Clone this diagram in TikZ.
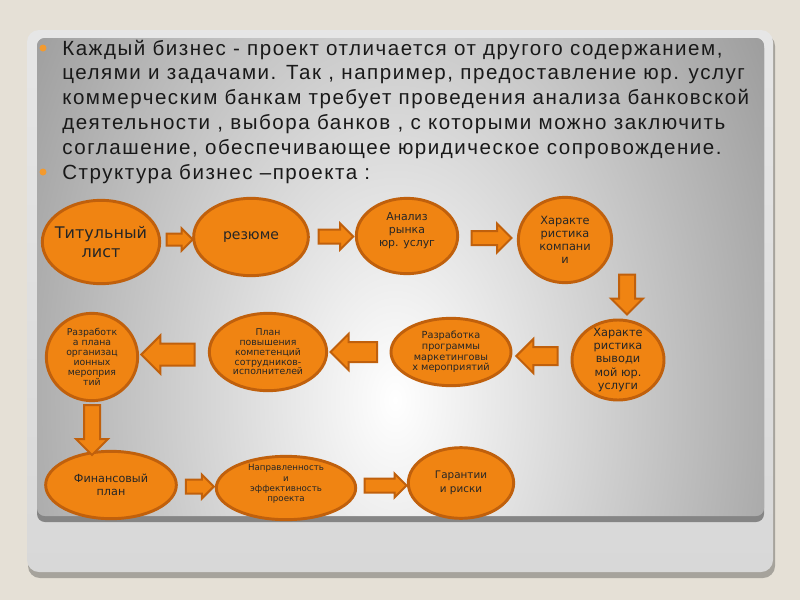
\documentclass[tikz,border=0pt]{standalone}
\usepackage{fontspec}
\setmainfont{Liberation Sans}
\newfontfamily\slidefont[LetterSpace=7.5]{Liberation Sans}
\newfontfamily\bubblefont{DejaVu Sans}
\usetikzlibrary{positioning}
\usetikzlibrary{calc}
\usetikzlibrary{shapes.geometric,shapes.arrows}

\definecolor{slidebg}{HTML}{E5E0D6}
\definecolor{paneltop}{HTML}{E6E6E6}
\definecolor{panelbottom}{HTML}{D8D8D8}
\definecolor{panelshadow}{HTML}{A6A39C}
\definecolor{innergray}{HTML}{9C9C9C}
\definecolor{innerdark}{HTML}{858585}
\definecolor{bubblefill}{HTML}{F08412}
\definecolor{bubbleline}{HTML}{C0600C}
\definecolor{bulletorange}{HTML}{F39A2E}

\tikzset{
  bubble/.style={ellipse, draw=bubbleline, fill=bubblefill, line width=2.2pt, inner sep=0pt},
  bubbletext/.style={align=center, text=black!85, inner sep=0pt},
  fatarrow/.style={single arrow, draw=bubbleline, fill=bubblefill, line width=1.5pt, inner xsep=0pt, single arrow head indent=0pt},
  slidetext/.style={anchor=base west, inner sep=0pt, text=black!90, font=\slidefont\fontsize{15.4}{18.6}\selectfont},
}

\begin{document}
\begin{tikzpicture}[x=0.75pt, y=-0.75pt]
    % slide background and panels
    \useasboundingbox (0,0) rectangle (800,600);
    \fill[slidebg] (0,0) rectangle (800,600);
    \fill[panelshadow, rounded corners=9pt] (28,34) rectangle (775,578);
    \shade[top color=paneltop, bottom color=panelbottom, rounded corners=9pt] (27,30) rectangle (773,572);
    \fill[innerdark, rounded corners=6pt] (37,40) rectangle (764,522);
    \begin{scope}
        \clip[rounded corners=6pt] (37,38) rectangle (764,516);
        \fill[innergray] (37,38) rectangle (764,516);
        \shade[inner color=white, outer color=innergray] (395,400) ellipse (440 and 700);
    \end{scope}

    % the bullet text (base of a multi-line node is its last line)
    \fill[bulletorange] (43,48) circle (3.5);
    \fill[bulletorange] (43,172) circle (3.5);
    \node[slidetext, align=left] (intro) at (62,154.2)
        {Каждый бизнес - проект отличается от другого содержанием,\\
         целями и задачами. Так , например, предоставление юр. услуг\\
         коммерческим банкам требует проведения анализа банковской\\
         деятельности , выбора банков , с которыми можно заключить\\
         соглашение, обеспечивающее юридическое сопровождение.};
    \node[slidetext] (structure) at (62,179) {Структура бизнес –проекта :};

    % the stages, row by row
    \node[bubble, minimum width=88pt, minimum height=62.5pt,
        label={[bubbletext, font=\bubblefont\fontsize{12}{14}\selectfont]center:{Титульный\\лист}}] (title) at (101,242) {};
    \node[bubble, minimum width=86pt, minimum height=58pt,
        label={[bubbletext, font=\bubblefont\fontsize{10.5}{12}\selectfont]center:{резюме}}] (summary) at (251,237) {};
    \node[bubble, minimum width=76pt, minimum height=56.5pt,
        label={[bubbletext, yshift=4pt, font=\bubblefont\fontsize{8.2}{9.4}\selectfont]center:{Анализ\\рынка\\юр. услуг}}] (analysis) at (407,236) {};
    \node[bubble, minimum width=70pt, minimum height=64pt,
        label={[bubbletext, font=\bubblefont\fontsize{8.5}{9.8}\selectfont]center:{Характе\\ристика\\компани\\и}}] (company) at (565,240) {};

    \node[bubble, minimum width=69pt, minimum height=60pt,
        label={[bubbletext, font=\bubblefont\fontsize{8.5}{10}\selectfont]center:{Характе\\ристика\\выводи\\мой юр.\\услуги}}] (service) at (618,360) {};
    \node[bubble, minimum width=90pt, minimum height=50.5pt,
        label={[bubbletext, font=\bubblefont\fontsize{7.3}{7.9}\selectfont]center:{Разработка\\программы\\маркетинговы\\х мероприятий}}] (marketing) at (451,352) {};
    \node[bubble, minimum width=88pt, minimum height=58pt,
        label={[bubbletext, font=\bubblefont\fontsize{7}{7.3}\selectfont]center:{План\\повышения\\компетенций\\сотрудников-\\исполнителей}}] (staff) at (268,352) {};
    \node[bubble, minimum width=68.5pt, minimum height=65.5pt,
        label={[bubbletext, font=\bubblefont\fontsize{7}{7.5}\selectfont]center:{Разработк\\а плана\\организац\\ионных\\мероприя\\тий}}] (events) at (92,357) {};

    \node[bubble, minimum width=98pt, minimum height=50.5pt,
        label={[bubbletext, font=\bubblefont\fontsize{8.4}{9.8}\selectfont]center:{Финансовый\\план}}] (finance) at (111,485) {};
    \node[bubble, minimum width=104.5pt, minimum height=47.5pt,
        label={[bubbletext, yshift=3pt, font=\bubblefont\fontsize{6.5}{7.8}\selectfont]center:{Направленность\\и\\эффективность\\проекта}}] (efficiency) at (286,488) {};
    \node[bubble, minimum width=79pt, minimum height=53pt,
        label={[bubbletext, font=\bubblefont\fontsize{7.8}{10.5}\selectfont]center:{Гарантии\\и риски}}] (risks) at (461,483) {};

    % the block arrows between the stages
    \node[fatarrow, minimum height=19.5pt, inner ysep=3.75pt, single arrow head extend=3.75pt] (a12) at ($(title.east)!0.5!(summary.west)$) {};
    \node[fatarrow, minimum height=26pt, inner ysep=4.5pt, single arrow head extend=4.5pt] (a23) at ($(summary.east)!0.5!(analysis.west)$) {};
    \node[fatarrow, minimum height=30pt, inner ysep=4.5pt, single arrow head extend=5.6pt] (a34) at ($(analysis.east)!0.5!(company.west)$) {};
    \node[fatarrow, rotate=-90, minimum height=30pt, inner ysep=5.25pt, single arrow head extend=6pt] (a45) at ($(service.north)+(9,-28)$) {};
    \node[fatarrow, rotate=180, minimum height=31pt, inner ysep=6pt, single arrow head extend=6pt] (a56) at ($(service.west)!0.5!(marketing.east)$) {};
    \node[fatarrow, rotate=180, minimum height=35pt, inner ysep=6.75pt, single arrow head extend=6pt] (a67) at ($(marketing.west)!0.5!(staff.east)$) {};
    \node[fatarrow, rotate=180, minimum height=40pt, inner ysep=7.5pt, single arrow head extend=6pt] (a78) at ($(staff.west)!0.5!(events.east)$) {};
    \node[fatarrow, rotate=-90, minimum height=37.5pt, inner ysep=5.25pt, single arrow head extend=6pt] (a89) at ($(events.south)!0.5!(events.south |- finance.north)$) {};
    \node[fatarrow, minimum height=21pt, inner ysep=4.5pt, single arrow head extend=3.75pt] (a910) at ($(finance.east)!0.5!(efficiency.west)$) {};
    \node[fatarrow, minimum height=31.5pt, inner ysep=4.5pt, single arrow head extend=3.75pt] (a1011) at ($(efficiency.east)!0.5!(risks.west)$) {};
\end{tikzpicture}
\end{document}
